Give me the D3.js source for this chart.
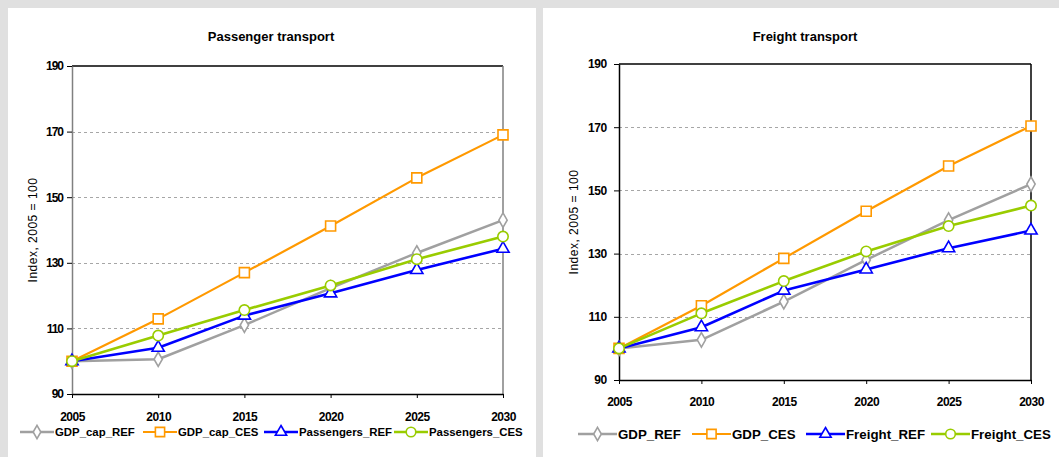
<!DOCTYPE html>
<html>
<head>
<meta charset="utf-8">
<script src="https://cdn.jsdelivr.net/npm/d3@7"></script>
<style>
  html, body { margin: 0; padding: 0; background: #e0e0e0; }
  svg { display: block; }
  text { font-family: "Liberation Sans", Arial, sans-serif; fill: #000; }
</style>
</head>
<body>
<svg id="chart" width="1059" height="457"></svg>
<script>
// Years on the horizontal axis
const years = [2005, 2010, 2015, 2020, 2025, 2030];
const yTicks = [90, 110, 130, 150, 170, 190];

// Passenger transport indices (2005 = 100)
const gdpCapRef = [100, 100.6, 111.0, 122.3, 133.0, 143.0];
const gdpCapCes = [100, 112.9, 127.0, 141.2, 155.9, 169.0];
const passengersRef = [100, 104.1, 113.9, 120.7, 127.8, 134.3];
const passengersCes = [100, 107.8, 115.6, 123.1, 131.1, 138.0];

// Freight transport indices (2005 = 100)
const gdpRef = [100, 102.7, 114.8, 128.0, 140.6, 152.0];
const gdpCes = [100, 113.5, 128.5, 143.4, 157.7, 170.4];
const freightRef = [100, 106.7, 118.3, 125.0, 131.7, 137.3];
const freightCes = [100, 111.1, 121.3, 130.7, 138.7, 145.2];

const passengerNames = ["GDP_cap_REF", "GDP_cap_CES", "Passengers_REF", "Passengers_CES"];
const freightNames = ["GDP_REF", "GDP_CES", "Freight_REF", "Freight_CES"];

// Series styling shared by both panels
const styles = [
  { color: "#a0a0a0", width: 2.5, symbol: d3.symbolDiamond, size: 60 },
  { color: "#ff9900", width: 2.2, symbol: d3.symbolSquare, size: 100 },
  { color: "#0000ff", width: 2.6, symbol: d3.symbolTriangle, size: 65 },
  { color: "#99cc00", width: 2.6, symbol: d3.symbolCircle, size: 85 }
];

const svg = d3.select("#chart");

function drawPanel(cfg) {
  const g = svg.append("g");

  // white panel card
  g.append("rect")
    .attr("x", cfg.panel[0]).attr("y", cfg.panel[1])
    .attr("width", cfg.panel[2]).attr("height", cfg.panel[3])
    .attr("fill", "#ffffff");

  const x = d3.scalePoint().domain(years).range(cfg.xRange);
  const y = d3.scaleLinear().domain([90, 190]).range(cfg.yRange);
  const [x0, x1] = cfg.xRange;
  const [yb, yt] = cfg.yRange;

  // title
  g.append("text")
    .attr("x", cfg.titleX).attr("y", cfg.titleY)
    .attr("text-anchor", "middle")
    .style("font-size", "13px").style("font-weight", "bold")
    .text(cfg.title);

  // dashed gridlines
  g.append("g").selectAll("line")
    .data(yTicks.filter(v => v > 90 && v < 190))
    .join("line")
    .attr("x1", x0).attr("x2", x1)
    .attr("y1", d => Math.round(y(d)) + 0.5).attr("y2", d => Math.round(y(d)) + 0.5)
    .attr("stroke", "#a6a6a6").attr("stroke-width", 1)
    .attr("stroke-dasharray", "3,3");

  // plot frame: top and right edges
  g.append("line").attr("x1", x0).attr("x2", x1).attr("y1", yt).attr("y2", yt)
    .attr("stroke", "#000").attr("stroke-width", 1.5);
  g.append("line").attr("x1", x1).attr("x2", x1).attr("y1", yt).attr("y2", yb)
    .attr("stroke", cfg.frameColor).attr("stroke-width", 1.5);

  // y axis
  const yAxis = d3.axisLeft(y).tickValues(yTicks).tickSize(5).tickSizeOuter(0).tickPadding(cfg.yPad);
  const ya = g.append("g").attr("transform", `translate(${x0},0)`).call(yAxis);
  ya.select(".domain").attr("stroke", cfg.leftAxisColor).attr("stroke-width", 1.5);
  ya.selectAll(".tick line").attr("stroke", "#000");
  ya.selectAll(".tick text")
    .style("font-size", "12px").style("font-weight", "bold")
    .style("letter-spacing", cfg.yTickSpacing)
    .style("font-family", "'Liberation Sans', Arial, sans-serif");

  // x axis
  const xAxis = d3.axisBottom(x).tickSize(4).tickSizeOuter(0).tickPadding(cfg.xPad);
  const xa = g.append("g").attr("transform", `translate(0,${yb})`).call(xAxis);
  xa.select(".domain").attr("stroke", "#000").attr("stroke-width", 1.5);
  xa.selectAll(".tick line").attr("stroke", "#000");
  xa.selectAll(".tick text")
    .style("font-size", "12px").style("font-weight", "bold")
    .style("letter-spacing", "-0.5px")
    .style("font-family", "'Liberation Sans', Arial, sans-serif");

  // y axis title
  g.append("text")
    .attr("transform", `translate(${cfg.yLabelX},${(yb + yt) / 2}) rotate(-90)`)
    .attr("text-anchor", "middle")
    .style("font-size", "12px").style("letter-spacing", "0.5px")
    .text("Index, 2005 = 100");

  // series: line then markers, in legend order
  const line = d3.line().x((d, i) => x(years[i])).y(d => y(d));
  cfg.series.forEach((vals, k) => {
    const st = styles[k];
    g.append("path").datum(vals)
      .attr("d", line)
      .attr("fill", "none")
      .attr("stroke", st.color).attr("stroke-width", st.width)
      .attr("stroke-linejoin", "round");
    g.append("g").selectAll("path")
      .data(vals)
      .join("path")
      .attr("transform", (d, i) => `translate(${x(years[i])},${y(d)})`)
      .attr("d", d3.symbol().type(st.symbol).size(st.size))
      .attr("fill", "#fff")
      .attr("stroke", st.color).attr("stroke-width", 1.6);
  });

  // legend: one swatch + label per series at fixed slots
  const leg = g.append("g");
  const ly = cfg.legendY;
  cfg.names.forEach((name, k) => {
    const st = styles[k];
    const cx = cfg.legendSlots[k];
    const len = cfg.legendLine;
    leg.append("line")
      .attr("x1", cx).attr("x2", cx + len)
      .attr("y1", ly).attr("y2", ly)
      .attr("stroke", st.color).attr("stroke-width", st.width);
    leg.append("path")
      .attr("transform", `translate(${cx + len / 2},${ly})`)
      .attr("d", d3.symbol().type(st.symbol).size(st.size * 0.85))
      .attr("fill", "#fff").attr("stroke", st.color).attr("stroke-width", 1.6);
    leg.append("text")
      .attr("x", cx + len + 1).attr("y", ly)
      .attr("dy", "0.36em")
      .style("font-size", cfg.legendFont).style("font-weight", "bold")
      .text(name);
  });
}

drawPanel({
  panel: [8, 8, 528, 449],
  title: "Passenger transport",
  titleX: 271, titleY: 41,
  xRange: [72, 503],
  yRange: [394, 66],
  xPad: 14,
  yPad: 4,
  yTickSpacing: "-1px",
  yLabelX: 37,
  frameColor: "#808080",
  leftAxisColor: "#808080",
  series: [gdpCapRef, gdpCapCes, passengersRef, passengersCes],
  names: passengerNames,
  legendSlots: [20, 143, 264, 394],
  legendLine: 34,
  legendFont: "11.4px",
  legendY: 432
});

drawPanel({
  panel: [543, 8, 516, 449],
  title: "Freight transport",
  titleX: 805, titleY: 41,
  xRange: [619, 1031],
  yRange: [380, 64],
  xPad: 13,
  yPad: 7,
  yTickSpacing: "-0.3px",
  yLabelX: 578,
  frameColor: "#000",
  leftAxisColor: "#000",
  series: [gdpRef, gdpCes, freightRef, freightCes],
  names: freightNames,
  legendSlots: [578, 692, 806, 931],
  legendLine: 39,
  legendFont: "13.3px",
  legendY: 434
});
</script>
</body>
</html>
